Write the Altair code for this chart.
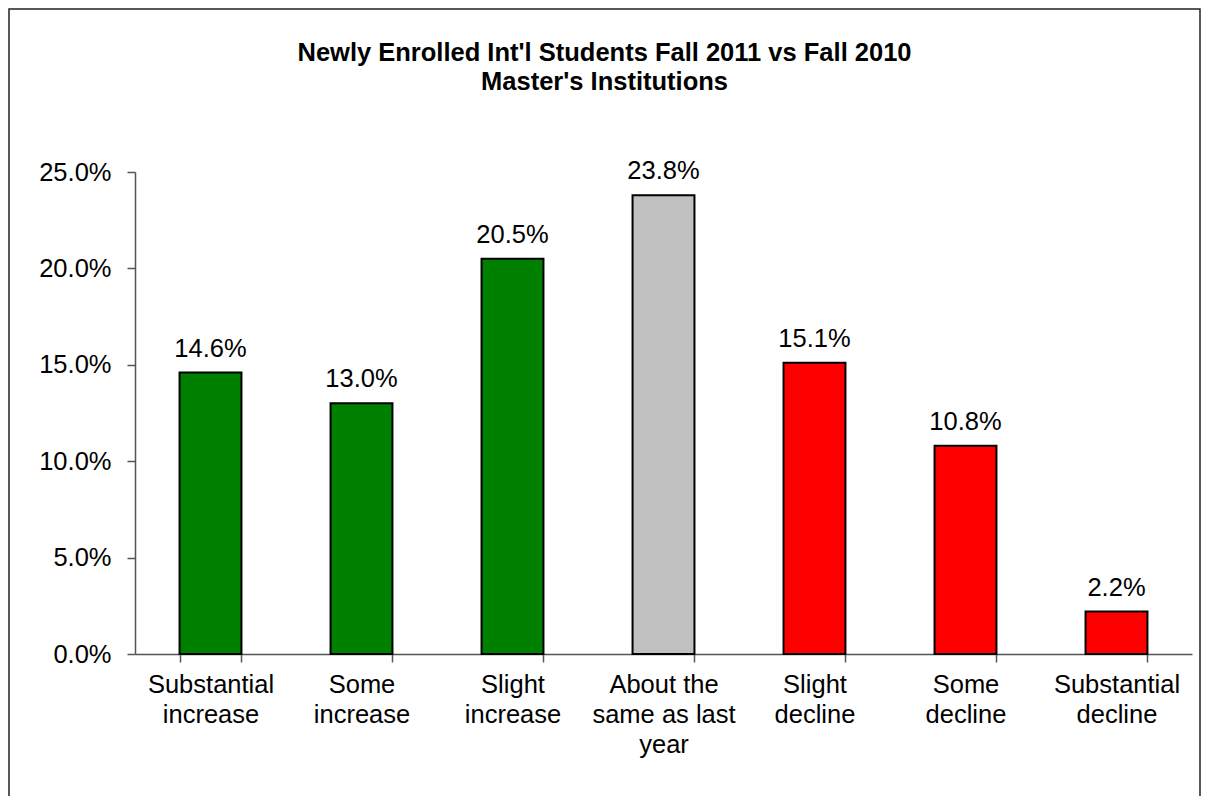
import altair as alt
import pandas as pd

categories = [
    "Substantial increase",
    "Some increase",
    "Slight increase",
    "About the same as last year",
    "Slight decline",
    "Some decline",
    "Substantial decline",
]
label_lines = [
    ["Substantial", "increase"],
    ["Some", "increase"],
    ["Slight", "increase"],
    ["About the", "same as last", "year"],
    ["Slight", "decline"],
    ["Some", "decline"],
    ["Substantial", "decline"],
]
values = [14.6, 13.0, 20.5, 23.8, 15.1, 10.8, 2.2]
groups = ["increase", "increase", "increase", "same", "decline", "decline", "decline"]

df = pd.DataFrame({
    "category": categories,
    "value": [v / 100 for v in values],
    "group": groups,
})

label_map = {c: l for c, l in zip(categories, label_lines)}
label_expr = " : ".join(
    [f"datum.label == {c!r} ? {l!r}" for c, l in label_map.items()]
) + " : datum.label"

FONT = "Liberation Sans"
FS = 25.5

x_enc = alt.X(
    "category:N",
    sort=categories,
    scale=alt.Scale(paddingInner=0.59, paddingOuter=0.295),
    axis=alt.Axis(
        title=None,
        labelAngle=0,
        labelExpr=label_expr,
        labelFont=FONT,
        labelFontSize=FS,
        labelColor="#000000",
        labelLineHeight=30,
        labelPadding=10,
        tickSize=8,
        tickBand="extent",
        tickColor="#555555",
        domainColor="#555555",
        tickWidth=1.5,
        domainWidth=1.5,
    ),
)
y_enc = alt.Y(
    "value:Q",
    scale=alt.Scale(domain=[0, 0.25], nice=False),
    axis=alt.Axis(
        title=None,
        format=".1%",
        values=[0, 0.05, 0.10, 0.15, 0.20, 0.25],
        labelFont=FONT,
        labelFontSize=FS,
        labelColor="#000000",
        labelPadding=16,
        tickSize=8,
        tickColor="#555555",
        domainColor="#555555",
        tickWidth=1.5,
        domainWidth=1.5,
        grid=False,
    ),
)

base = alt.Chart(df).encode(x=x_enc, y=y_enc)

bars = base.mark_bar(stroke="#000000", strokeWidth=2).encode(
    color=alt.Color(
        "group:N",
        scale=alt.Scale(domain=["increase", "same", "decline"],
                        range=["#008000", "#C0C0C0", "#FF0000"]),
        legend=None,
    ),
)

texts = base.mark_text(
    font=FONT, fontSize=FS, color="#000000", baseline="middle", dy=-24
).encode(
    text=alt.Text("value:Q", format=".1%"),
)

frame = alt.Chart(pd.DataFrame({"f": [0]})).mark_rect(
    filled=False, stroke="#222222", strokeWidth=1.5
).encode(
    x=alt.value(-126), x2=alt.value(1065), y=alt.value(-163), y2=alt.value(700)
)

chart = alt.layer(bars, texts, frame).properties(
    width=1057,
    height=482,
    title=alt.TitleParams(
        text=["Newly Enrolled Int'l Students Fall 2011 vs Fall 2010", "Master's Institutions"],
        font=FONT,
        fontSize=25.5,
        fontWeight="bold",
        color="#000000",
        lineHeight=29,
        anchor="middle",
        frame="group",
        dx=-59,
        offset=-87,
    ),
    autosize=alt.AutoSizeParams(type="none"),
    padding={"left": 127, "top": 164, "right": 9, "bottom": 142},
).configure_view(stroke=None)

chart.save("out.html", embed_options={"renderer": "svg", "actions": False})
